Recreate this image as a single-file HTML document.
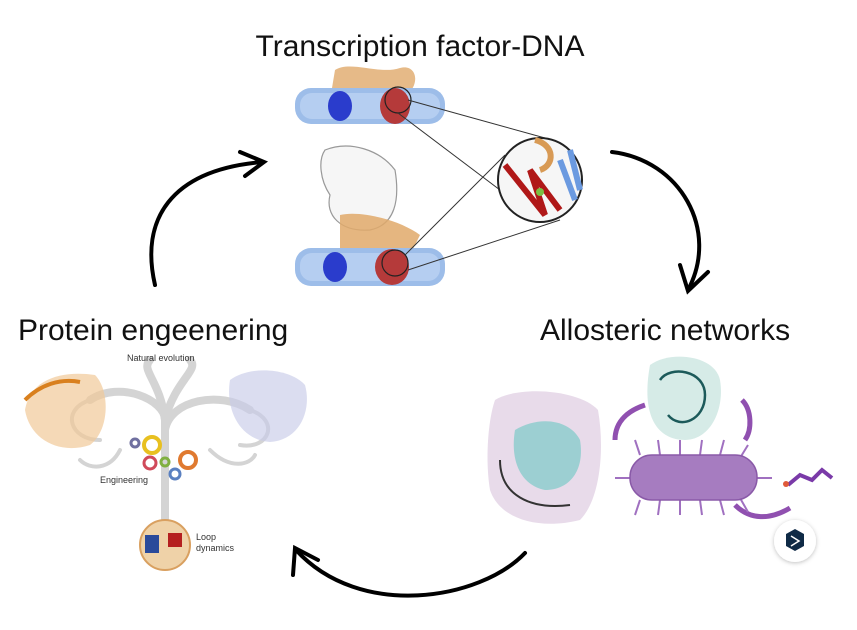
<!DOCTYPE html>
<html><head><meta charset="utf-8"><style>
html,body{margin:0;padding:0;background:#fff;width:857px;height:630px;overflow:hidden}
svg{display:block}
text{font-family:"Liberation Sans",sans-serif}
</style></head><body>
<svg width="857" height="630" viewBox="0 0 857 630">
<defs>
<filter id="sh" x="-50%" y="-50%" width="200%" height="200%"><feDropShadow dx="0" dy="1" stdDeviation="2" flood-opacity="0.25"/></filter>
</defs>
<!-- titles -->
<text x="420" y="56" font-size="30" text-anchor="middle" fill="#111">Transcription factor-DNA</text>
<text x="18" y="340" font-size="30" fill="#111">Protein engeenering</text>
<text x="540" y="340" font-size="30" fill="#111">Allosteric networks</text>

<!-- arrows -->
<g fill="none" stroke="#000" stroke-width="4" stroke-linecap="round">
<path d="M155 285 C140 220 170 170 262 162"/>
<path d="M240 152 L264 162 L245 176"/>
<path d="M612 152 C680 160 720 230 688 290"/>
<path d="M680 265 L688 291 L708 272"/>
<path d="M525 553 C480 600 360 620 296 550"/>
<path d="M293 575 L295 548 L318 560"/>
</g>

<!-- top DNA -->
<g>
<path d="M335 70 C350 60 380 75 400 68 C415 64 420 80 410 92 L330 100 Z" fill="#e0a96a" opacity="0.8"/>
<rect x="295" y="88" width="150" height="36" rx="16" fill="#9dbde9"/>
<rect x="300" y="93" width="140" height="26" rx="12" fill="#b5cef1"/>
<ellipse cx="340" cy="106" rx="12" ry="15" fill="#2a3ccc"/>
<ellipse cx="395" cy="106" rx="15" ry="18" fill="#b53a3a"/>
<circle cx="398" cy="100" r="13" fill="none" stroke="#222" stroke-width="1.2"/>
<!-- bottom -->
<path d="M325 150 C350 140 380 150 395 170 C400 200 395 225 370 230 C340 232 325 215 330 195 C320 180 318 160 325 150Z" fill="#f6f6f6" stroke="#999" stroke-width="1.2"/>
<path d="M340 215 C360 210 400 220 420 235 L410 255 L340 250Z" fill="#e0a96a" opacity="0.85"/>
<rect x="295" y="248" width="150" height="38" rx="16" fill="#9dbde9"/>
<rect x="300" y="253" width="140" height="28" rx="12" fill="#b5cef1"/>
<ellipse cx="335" cy="267" rx="12" ry="15" fill="#2a3ccc"/>
<ellipse cx="392" cy="267" rx="17" ry="18" fill="#b53a3a"/>
<circle cx="395" cy="263" r="13" fill="none" stroke="#222" stroke-width="1.2"/>
<!-- zoom lines -->
<g stroke="#333" stroke-width="1" fill="none">
<line x1="408" y1="100" x2="545" y2="138"/>
<line x1="398" y1="113" x2="500" y2="190"/>
<line x1="405" y1="255" x2="505" y2="155"/>
<line x1="408" y1="270" x2="560" y2="220"/>
</g>
<circle cx="540" cy="180" r="42" fill="#f6f6f6" stroke="#222" stroke-width="2"/>
<path d="M505 165 L545 215 L530 170 L560 210" stroke="#b01818" stroke-width="6" fill="none"/>
<path d="M560 160 L575 200 M570 150 L580 190" stroke="#6b9ae0" stroke-width="6" fill="none"/>
<path d="M535 140 C555 145 555 165 540 170" stroke="#d89a55" stroke-width="6" fill="none"/>
<circle cx="540" cy="192" r="4" fill="#7ac043"/>
</g>

<!-- left tree -->
<g fill="none" stroke="#d4d4d4" stroke-width="8" stroke-linecap="round">
<path d="M165 560 L165 420 C165 400 120 380 90 400"/>
<path d="M165 430 C170 400 220 390 250 410"/>
<path d="M165 420 C160 380 140 370 150 360"/>
<path d="M165 420 C175 380 200 370 190 360"/>
<path d="M90 400 C60 410 70 440 100 440" stroke-width="4"/>
<path d="M250 410 C280 420 270 450 240 445" stroke-width="4"/>
<path d="M120 450 C110 470 90 470 80 460" stroke-width="4"/>
<path d="M210 450 C230 470 250 465 255 455" stroke-width="4"/>
</g>
<text x="127" y="361" font-size="9" fill="#333">Natural evolution</text>
<path d="M25 410 C30 380 60 370 95 375 C110 390 110 430 90 445 C60 455 30 440 25 410Z" fill="#f1c999" opacity="0.7"/>
<path d="M25 400 C40 385 60 378 80 382" stroke="#d9801e" stroke-width="4" fill="none"/>
<path d="M230 380 C250 365 290 368 305 385 C312 410 300 440 270 442 C240 440 225 410 230 380Z" fill="#c8cbe8" opacity="0.65"/>
<circle cx="152" cy="445" r="8" fill="none" stroke="#e8c020" stroke-width="4"/>
<circle cx="135" cy="443" r="4" fill="none" stroke="#7070a0" stroke-width="3"/>
<circle cx="150" cy="463" r="6" fill="none" stroke="#d04a5a" stroke-width="3"/>
<circle cx="165" cy="462" r="4" fill="none" stroke="#80b040" stroke-width="3"/>
<circle cx="188" cy="460" r="8" fill="none" stroke="#e07a30" stroke-width="4"/>
<circle cx="175" cy="474" r="5" fill="none" stroke="#5a80c0" stroke-width="3"/>
<text x="100" y="483" font-size="9" fill="#333">Engineering</text>
<circle cx="165" cy="545" r="25" fill="#efd2a8" stroke="#d9a060" stroke-width="2"/>
<rect x="145" y="535" width="14" height="18" fill="#2a4a9a"/>
<rect x="168" y="533" width="14" height="14" fill="#b52020"/>
<text x="196" y="540" font-size="9" fill="#333">Loop</text>
<text x="196" y="551" font-size="9" fill="#333">dynamics</text>

<!-- right side -->
<path d="M495 400 C520 385 580 390 598 410 C605 450 600 500 580 520 C540 530 500 520 490 490 C485 460 488 420 495 400Z" fill="#e8dbea"/>
<path d="M515 430 C540 415 570 420 580 440 C585 470 570 490 545 490 C520 485 510 460 515 430Z" fill="#7ccac8" opacity="0.7"/>
<path d="M500 460 C500 495 530 510 570 505" stroke="#333" stroke-width="2" fill="none"/>
<path d="M650 365 C670 350 715 355 720 380 C725 410 710 440 685 440 C660 440 640 420 650 365Z" fill="#d6ebe7"/>
<path d="M660 380 C670 365 705 370 705 395 C705 420 680 430 668 415" stroke="#1c5a5a" stroke-width="2.5" fill="none"/>
<path d="M615 440 C615 420 630 410 645 405" stroke="#9050b0" stroke-width="5" fill="none"/>
<path d="M742 400 C752 410 752 430 745 440" stroke="#9050b0" stroke-width="5" fill="none"/>
<path d="M735 505 C750 520 770 520 790 508" stroke="#9050b0" stroke-width="5" fill="none"/>
<g stroke="#a070c0" stroke-width="2">
<line x1="640" y1="455" x2="635" y2="440"/><line x1="660" y1="455" x2="658" y2="440"/><line x1="680" y1="455" x2="680" y2="440"/><line x1="700" y1="455" x2="702" y2="440"/><line x1="720" y1="455" x2="724" y2="440"/><line x1="740" y1="458" x2="748" y2="445"/>
<line x1="640" y1="500" x2="635" y2="515"/><line x1="660" y1="500" x2="658" y2="515"/><line x1="680" y1="500" x2="680" y2="515"/><line x1="700" y1="500" x2="702" y2="515"/><line x1="720" y1="500" x2="724" y2="515"/><line x1="740" y1="498" x2="748" y2="512"/>
<line x1="630" y1="478" x2="615" y2="478"/><line x1="757" y1="478" x2="772" y2="478"/>
</g>
<rect x="630" y="455" width="127" height="45" rx="22" fill="#a67cc0" stroke="#8a5aa8" stroke-width="1.5"/>
<path d="M788 485 L800 475 L812 480 L822 470 L832 478" stroke="#7a3aa8" stroke-width="4" fill="none"/>
<circle cx="786" cy="484" r="3" fill="#e05a3a"/>
<circle cx="795" cy="541" r="21" fill="#fff" filter="url(#sh)"/>
<path d="M786 534 L795 529 L804 534 L804 546 L795 551 L786 546Z" fill="#0f2a46"/>
<path d="M791 536 L799 541 L791 546" stroke="#fff" stroke-width="1.5" fill="none"/>
</svg>
</body></html>
